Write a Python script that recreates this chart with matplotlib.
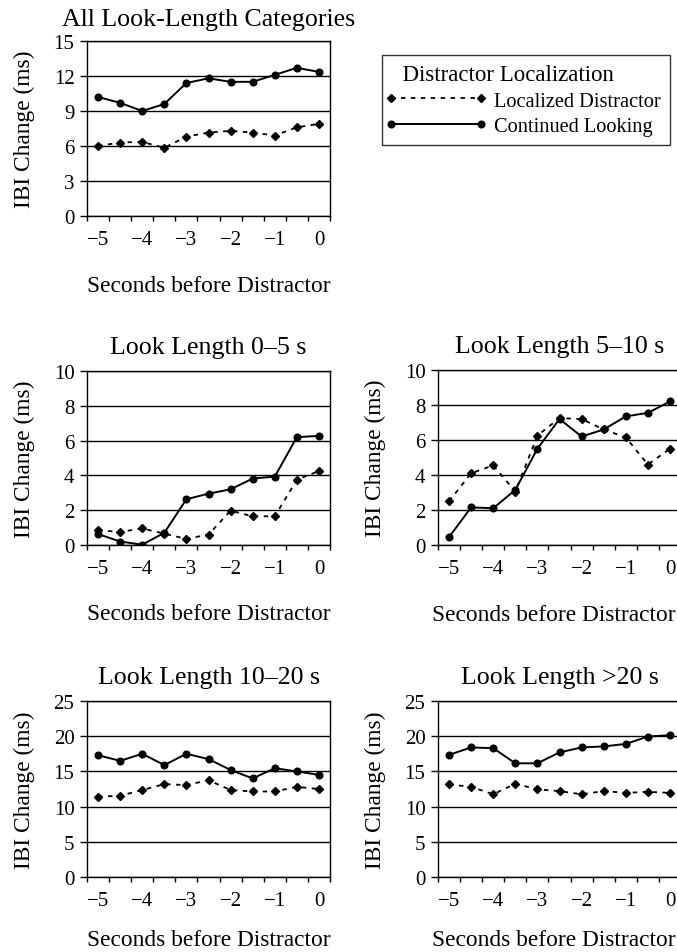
import numpy as np
import matplotlib
matplotlib.use("Agg")
import matplotlib.pyplot as plt
from matplotlib.lines import Line2D
from matplotlib.legend_handler import HandlerLine2D

plt.rcParams['font.family'] = ['Liberation Serif', 'DejaVu Serif']

# ---------------- data ----------------
seconds = [-5, -4.5, -4, -3.5, -3, -2.5, -2, -1.5, -1, -0.5, 0]
tick_labels = ["\u22125", "\u22124", "\u22123", "\u22122", "\u22121", "0"]
tick_positions = [-5, -4, -3, -2, -1, 0]

all_localized = [6.0, 6.3, 6.35, 5.85, 6.8, 7.15, 7.3, 7.15, 6.9, 7.6, 7.9]
all_continued = [10.2, 9.7, 9.0, 9.6, 11.4, 11.8, 11.5, 11.5, 12.1, 12.7, 12.35]

l05_localized = [0.85, 0.75, 0.95, 0.65, 0.35, 0.6, 1.97, 1.65, 1.65, 3.75, 4.25]
l05_continued = [0.63, 0.2, 0.02, 0.7, 2.63, 2.95, 3.2, 3.82, 3.93, 6.2, 6.27]

l510_localized = [2.5, 4.1, 4.55, 3.05, 6.25, 7.25, 7.2, 6.6, 6.15, 4.6, 5.5]
l510_continued = [0.45, 2.15, 2.1, 3.15, 5.5, 7.2, 6.2, 6.6, 7.35, 7.55, 8.2]

l1020_localized = [11.4, 11.55, 12.35, 13.2, 13.05, 13.75, 12.35, 12.15, 12.15, 12.8, 12.5]
l1020_continued = [17.3, 16.5, 17.5, 15.9, 17.5, 16.75, 15.2, 14.0, 15.45, 15.0, 14.5]

l20_localized = [13.15, 12.8, 11.75, 13.25, 12.45, 12.2, 11.75, 12.2, 11.95, 12.1, 11.95]
l20_continued = [17.35, 18.4, 18.3, 16.15, 16.15, 17.7, 18.4, 18.55, 18.9, 19.95, 20.15]

panel_titles = ["All Look-Length Categories", "Look Length 0\u20135 s", "Look Length 5\u201310 s",
                "Look Length 10\u201320 s", "Look Length >20 s"]
y_ticks = [[0, 3, 6, 9, 12, 15], [0, 2, 4, 6, 8, 10], [0, 2, 4, 6, 8, 10],
           [0, 5, 10, 15, 20, 25], [0, 5, 10, 15, 20, 25]]
series_localized = [all_localized, l05_localized, l510_localized, l1020_localized, l20_localized]
series_continued = [all_continued, l05_continued, l510_continued, l1020_continued, l20_continued]

legend_title = "Distractor Localization"
legend_labels = ["Localized Distractor", "Continued Looking"]
xlabel = "Seconds before Distractor"
ylabel = "IBI Change (ms)"

# ---------------- layout ----------------
W, H = 677, 953
fig = plt.figure(figsize=(W / 100, H / 100), dpi=100)


def px_axes(left, top, right, bottom):
    return fig.add_axes([left / W, 1 - bottom / H, (right - left) / W, (bottom - top) / H])


boxes = [(87, 42, 330, 217), (87, 372, 330, 546), (438, 371, 681, 546),
         (87, 702, 330, 878), (438, 702, 681, 878)]
title_y = [1.09, 1.105, 1.10, 1.10, 1.10]
xlabel_y = [-0.335, -0.335, -0.335, -0.295, -0.295]
xlabel_x = [0.5, 0.5, 0.476, 0.5, 0.476]

dash_kw = dict(color='black', lw=1.3, dashes=(2.5, 3.0), marker='D', ms=4.4)
solid_kw = dict(color='black', lw=1.4, ls='-', marker='o', ms=4.8)

TS = 18.6   # title size
TK = 15.0   # tick label size
LS = 16.8   # axis label size

for i, box in enumerate(boxes):
    ax = px_axes(*box)
    ax.plot(seconds, series_localized[i], **dash_kw)
    ax.plot(seconds, series_continued[i], **solid_kw)
    ax.set_xlim(-5.25, 0.25)
    yt = y_ticks[i]
    ax.set_ylim(yt[0], yt[-1])
    ax.set_yticks(yt)
    ax.set_yticklabels([str(v) for v in yt])
    ax.set_xticks(tick_positions)
    ax.set_xticklabels(tick_labels)
    ax.set_xticks(np.arange(-5.25, 0.26, 0.5), minor=True)
    ax.tick_params(axis='x', which='major', length=0, pad=10, labelsize=TK)
    ax.tick_params(axis='x', which='minor', length=3.5, width=1.0, direction='out')
    ax.tick_params(axis='y', which='major', length=5, width=1.0, pad=4, labelsize=TK)
    ax.grid(axis='y', color='black', lw=1.0)
    ax.set_axisbelow(True)
    for s in ax.spines.values():
        s.set_linewidth(1.0)
        s.set_color('black')
    ax.set_xlabel(xlabel, fontsize=LS)
    ax.xaxis.set_label_coords(xlabel_x[i], xlabel_y[i])
    ax.set_ylabel(ylabel, fontsize=LS)
    ax.yaxis.set_label_coords(-0.215, 0.5)
    ax.set_title(panel_titles[i], fontsize=TS, y=title_y[i], pad=0)


class MarkerInsetHandler(HandlerLine2D):
    def get_xdata(self, legend, xdescent, ydescent, width, height, fontsize):
        xdata = np.array([-xdescent, -xdescent + width])
        xm = np.array([-xdescent + 0.28 * width, -xdescent + 0.79 * width])
        return xdata, xm


h1 = Line2D([], [], **dash_kw)
h2 = Line2D([], [], **solid_kw)
leg = fig.legend([h1, h2], legend_labels, title="  " + legend_title,
                 loc='upper left', bbox_to_anchor=(382 / W, 1 - 56 / H),
                 borderaxespad=0,
                 fontsize=14.7, title_fontsize=16.5, alignment='left',
                 handlelength=4.4, handletextpad=0.65, labelspacing=0.3,
                 borderpad=0.45, frameon=True, fancybox=False, edgecolor='black',
                 handler_map={Line2D: MarkerInsetHandler(numpoints=2)})
leg.get_frame().set_linewidth(1.0)

fig.savefig("out.png", dpi=100, facecolor='white')
